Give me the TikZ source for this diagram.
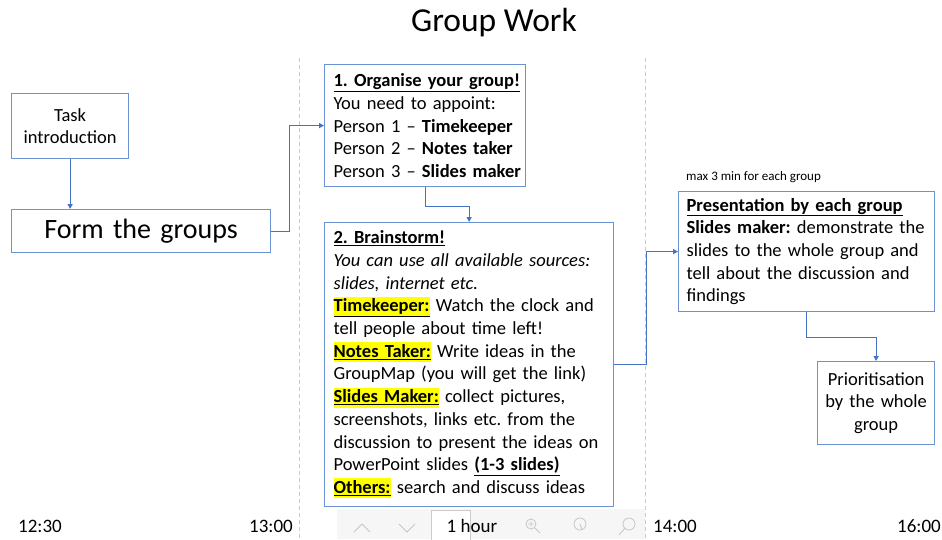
\documentclass[tikz,border=0pt]{standalone}
\usepackage{fontspec}
\setmainfont{Carlito}
\usetikzlibrary{arrows.meta,calc}
\definecolor{boxblue}{HTML}{6A93D6}
\definecolor{arrblue}{HTML}{4472C4}
\definecolor{dashblue}{HTML}{B8CCEC}
\definecolor{hlyellow}{HTML}{FFFF00}
\frenchspacing
\newcommand{\hlword}[1]{{\setlength{\fboxsep}{0pt}\colorbox{hlyellow}{\rule[-5pt]{0pt}{20pt}\textbf{\underline{#1}}}}}
\newcommand{\oneline}[1]{\mbox{#1}}
\tikzset{
  box/.style={draw=boxblue, line width=1.2pt, fill=white, rectangle, anchor=north west, inner ysep=0pt},
  bodytext/.style={font=\fontsize{18.5}{22.7}\selectfont},
  arr/.style={draw=arrblue, line width=1.1pt, -{Triangle[length=5pt,width=5pt]}},
  sep/.style={draw=dashblue, line width=1pt, dash pattern=on 4pt off 3pt},
  timelbl/.style={font=\fontsize{19}{22}\selectfont, inner sep=0pt},
  tool/.style={draw=gray!45, line width=0.8pt}
}
\begin{document}
\begin{tikzpicture}[x=1pt,y=-1pt]
\useasboundingbox[fill=white] (0,0) rectangle (942,539);

% separators
\draw[sep] (299,58) -- (299,539);
\draw[sep] (645,58) -- (645,539);

% title
\node[font=\fontsize{33.5}{40}\selectfont, inner sep=0pt] (title) at (494,23) {Group Work};

% boxes
\node[box, bodytext, minimum width=117pt, minimum height=65pt, text width=105pt, align=center, inner xsep=6pt] (task) at (11,93) {Task\\introduction};

\node[box, minimum width=259pt, minimum height=43pt, text width=247pt, align=center, inner xsep=6pt, font=\fontsize{28}{32}\selectfont] (form) at (11,209) {Form the groups};

\node[box, bodytext, minimum width=201pt, minimum height=122pt, text width=183pt, align=left, inner xsep=9pt] (org) at (324,64) {%
\oneline{\textbf{\underline{1. Organise your group!}}}\\
\oneline{You need to appoint:}\\
\oneline{Person 1 – \textbf{Timekeeper}}\\
\oneline{Person 2 – \textbf{Notes taker}}\\
\oneline{Person 3 – \textbf{Slides maker}}};

\node[box, bodytext, minimum width=289pt, minimum height=284pt, text width=271pt, align=left, inner xsep=9pt] (brain) at (324,222) {%
\oneline{\textbf{\underline{2. Brainstorm!}}}\\
\oneline{\textit{You can use all available sources:}}\\
\oneline{\textit{slides, internet etc.}}\\
\oneline{\hlword{Timekeeper:} Watch the clock and}\\
\oneline{tell people about time left!}\\
\oneline{\hlword{Notes Taker:} Write ideas in the}\\
\oneline{GroupMap (you will get the link)}\\
\oneline{\hlword{Slides Maker:} collect pictures,}\\
\oneline{screenshots, links etc. from the}\\
\oneline{discussion to present the ideas on}\\
\oneline{PowerPoint slides \textbf{\underline{(1-3 slides)}}}\\
\oneline{\hlword{Others:} search and discuss ideas}};

\node[font=\fontsize{13}{15}\selectfont, anchor=west, inner sep=0pt] (maxnote) at (686,177) {max 3 min for each group};

\node[box, bodytext, minimum width=256pt, minimum height=120pt, text width=240pt, align=left, inner xsep=8pt] (pres) at (678,191) {%
\oneline{\textbf{\underline{Presentation by each group}}}\\
\oneline{\textbf{Slides maker:} demonstrate the}\\
\oneline{slides to the whole group and}\\
\oneline{tell about the discussion and}\\
\oneline{findings}};

\node[box, bodytext, minimum width=117pt, minimum height=83pt, text width=105pt, align=center, inner xsep=6pt] (prio) at (817,361) {Prioritisation\\by the whole\\group};

% connectors
\draw[arr] (task.south) -- (task.south |- form.north);
\draw[arr] (form.east) -- ($(form.east)+(18,0)$) |- (org.west);
\draw[arr] (org.south) -- ++(0,19) -| (brain.north);
\draw[arr] (brain.east) -- ++(32,0) |- (pres.west);
\draw[arr] (pres.south) -- ++(0,25) -| (prio.north);

% toolbar overlay
\fill[gray!7] (337,509) rectangle (645,539);
\draw[tool] (354,532) -- (362,524) -- (370,532);
\draw[tool] (399,524) -- (407,532) -- (415,524);
\node[draw=gray!40, fill=white, minimum width=39pt, minimum height=32pt, inner sep=0pt, anchor=north west] (hourbox) at (431,510) {};
\node[font=\fontsize{19}{22}\selectfont, inner sep=0pt] (hour) at (472,526) {1 hour};
\draw[tool] (531,524) circle (5pt);
\draw[tool] (528,524) -- (534,524) (531,521) -- (531,527) (535,528) -- (540,533);
\draw[tool] (580,524) circle (6pt);
\draw[tool] (580,524) -- (582,530);
\draw[tool] (629,524) circle (6pt);
\draw[tool] (625,528) -- (619,535);

% time labels
\node[timelbl] (t1230) at (40,526) {12:30};
\node[timelbl] (t1300) at (271,526) {13:00};
\node[timelbl] (t1400) at (675,526) {14:00};
\node[timelbl, anchor=east] (t1600) at (941,526) {16:00};
\end{tikzpicture}
\end{document}
